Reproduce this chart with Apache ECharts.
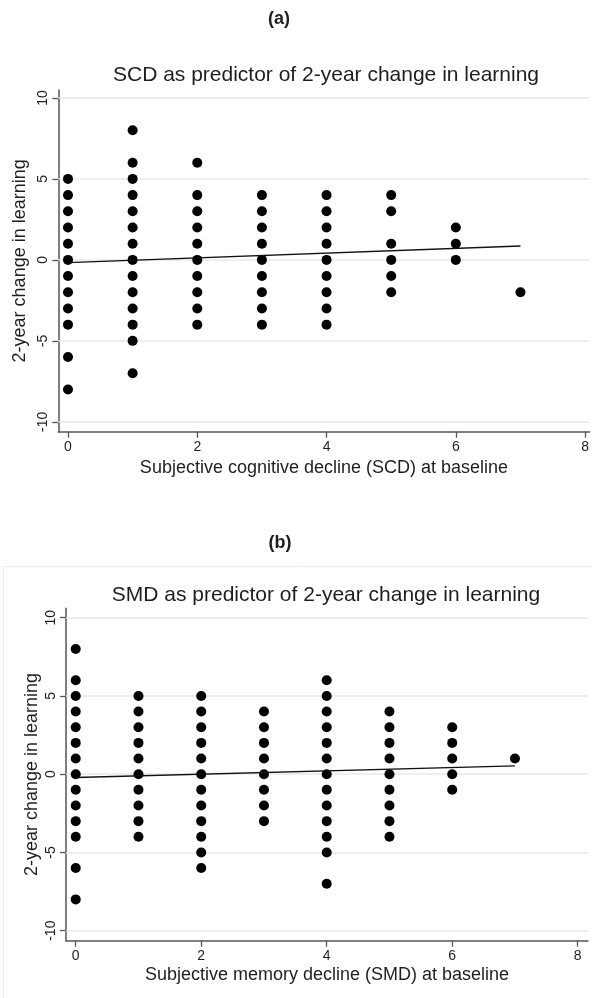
<!DOCTYPE html>
<html>
<head>
<meta charset="utf-8">
<script src="https://cdn.jsdelivr.net/npm/echarts@6/dist/echarts.min.js"></script>
<style>
html,body{margin:0;padding:0;background:#fff;}
#chart{width:592px;height:998px;}
</style>
</head>
<body>
<div id="chart"></div>
<script>
// ---- data ----
const scdLevels = [0, 1, 2, 3, 4, 5, 6, 7];
const scdChange = [
  [5, 4, 3, 2, 1, 0, -1, -2, -3, -4, -6, -8],
  [8, 6, 5, 4, 3, 2, 1, 0, -1, -2, -3, -4, -5, -7],
  [6, 4, 3, 2, 1, 0, -1, -2, -3, -4],
  [4, 3, 2, 1, 0, -1, -2, -3, -4],
  [4, 3, 2, 1, 0, -1, -2, -3, -4],
  [4, 3, 1, 0, -1, -2],
  [2, 1, 0],
  [-2]
];
const smdLevels = [0, 1, 2, 3, 4, 5, 6, 7];
const smdChange = [
  [8, 6, 5, 4, 3, 2, 1, 0, -1, -2, -3, -4, -6, -8],
  [5, 4, 3, 2, 1, 0, -1, -2, -3, -4],
  [5, 4, 3, 2, 1, 0, -1, -2, -3, -4, -5, -6],
  [4, 3, 2, 1, 0, -1, -2, -3],
  [6, 5, 4, 3, 2, 1, 0, -1, -2, -3, -4, -5, -7],
  [4, 3, 2, 1, 0, -1, -2, -3, -4],
  [3, 2, 1, 0, -1],
  [1]
];
// fitted regression lines (endpoints)
const fitX = [0, 7];
const scdFit = [-0.17, 0.86];
const smdFit = [-0.21, 0.53];
const xTicks = [0, 2, 4, 6, 8];
const yTicks = [-10, -5, 0, 5, 10];

const titles = {
  a: '(a)', b: '(b)',
  ta: 'SCD as predictor of 2-year change in learning',
  tb: 'SMD as predictor of 2-year change in learning',
  xa: 'Subjective cognitive decline (SCD) at baseline',
  xb: 'Subjective memory decline (SMD) at baseline',
  y: '2-year change in learning'
};

function toPoints(levels, values) {
  const pts = [];
  levels.forEach((lv, i) => values[i].forEach(v => pts.push([lv, v])));
  return pts;
}
function fitPts(ys) { return fitX.map((x, i) => [x, ys[i]]); }

const FONT = '"Liberation Sans", Arial, Helvetica, sans-serif';
const TXT = '#1e1e1e';
const AX = '#555';

function xAxis(gi, name, min, max, gap) {
  return {
    type: 'value', gridIndex: gi, min: min, max: max,
    name: name, nameLocation: 'middle', nameGap: gap, nameMoveOverlap: false,
    nameTextStyle: { fontFamily: FONT, fontSize: 18, color: TXT },
    axisLine: { show: true, onZero: false, lineStyle: { color: AX, width: 1.5 } },
    axisTick: { show: true, length: 6, customValues: xTicks, lineStyle: { color: AX, width: 1.3 } },
    axisLabel: { customValues: xTicks, margin: 8, fontFamily: FONT, fontSize: 14, color: TXT },
    splitLine: { show: false }
  };
}
function yAxis(gi, min, max, gap) {
  return {
    type: 'value', gridIndex: gi, min: min, max: max,
    name: titles.y, nameLocation: 'middle', nameGap: gap, nameMoveOverlap: false,
    nameTextStyle: { fontFamily: FONT, fontSize: 18, color: TXT },
    axisLine: { show: true, onZero: false, lineStyle: { color: AX, width: 1.5 } },
    axisTick: { show: true, length: 6, customValues: yTicks, lineStyle: { color: AX, width: 1.3 } },
    axisLabel: { customValues: yTicks, rotate: 90, margin: 8, fontFamily: FONT, fontSize: 14, color: TXT },
    splitLine: { show: false }
  };
}
function gridLines() {
  return {
    silent: true, symbol: 'none', z: 1, animation: false,
    label: { show: false },
    lineStyle: { color: '#e9e9e9', width: 1.6, type: 'solid', opacity: 1 },
    emphasis: { disabled: true },
    data: yTicks.map(v => ({ yAxis: v }))
  };
}

const chart = echarts.init(document.getElementById('chart'), null, { renderer: 'canvas' });
chart.setOption({
  animation: false,
  backgroundColor: '#fff',
  graphic: [{
    type: 'rect', z: -10, silent: true,
    shape: { x: 3.5, y: 566.5, width: 620, height: 460 },
    style: { fill: 'none', stroke: '#ececec', lineWidth: 1 }
  }],
  title: [
    { text: titles.a, left: 279, top: 9, textAlign: 'center', padding: 0,
      textStyle: { fontFamily: FONT, fontSize: 18, fontWeight: 'bold', color: TXT, lineHeight: 20 } },
    { text: titles.ta, left: 326, top: 63, textAlign: 'center', padding: 0,
      textStyle: { fontFamily: FONT, fontSize: 21, fontWeight: 'normal', color: TXT, lineHeight: 24 } },
    { text: titles.b, left: 280, top: 533, textAlign: 'center', padding: 0,
      textStyle: { fontFamily: FONT, fontSize: 18, fontWeight: 'bold', color: TXT, lineHeight: 20 } },
    { text: titles.tb, left: 326, top: 583, textAlign: 'center', padding: 0,
      textStyle: { fontFamily: FONT, fontSize: 21, fontWeight: 'normal', color: TXT, lineHeight: 24 } }
  ],
  grid: [
    { left: 58.3, top: 90, width: 531.7, height: 341.7 },
    { left: 66, top: 608.3, width: 522, height: 332.4 }
  ],
  xAxis: [
    xAxis(0, titles.xa, -0.15, 8.07, 27),
    xAxis(1, titles.xb, -0.155, 8.164, 25)
  ],
  yAxis: [
    yAxis(0, -10.61, 10.49, 29),
    yAxis(1, -10.64, 10.6, 25)
  ],
  series: [
    { type: 'scatter', xAxisIndex: 0, yAxisIndex: 0, symbol: 'circle', symbolSize: 10,
      itemStyle: { color: '#000', opacity: 1 }, data: toPoints(scdLevels, scdChange), z: 3,
      markLine: gridLines() },
    { type: 'line', xAxisIndex: 0, yAxisIndex: 0, data: fitPts(scdFit), showSymbol: false,
      symbol: 'none', lineStyle: { color: '#111', width: 1.4 }, z: 4 },
    { type: 'scatter', xAxisIndex: 1, yAxisIndex: 1, symbol: 'circle', symbolSize: 10,
      itemStyle: { color: '#000', opacity: 1 }, data: toPoints(smdLevels, smdChange), z: 3,
      markLine: gridLines() },
    { type: 'line', xAxisIndex: 1, yAxisIndex: 1, data: fitPts(smdFit), showSymbol: false,
      symbol: 'none', lineStyle: { color: '#111', width: 1.4 }, z: 4 }
  ]
});
</script>
</body>
</html>
